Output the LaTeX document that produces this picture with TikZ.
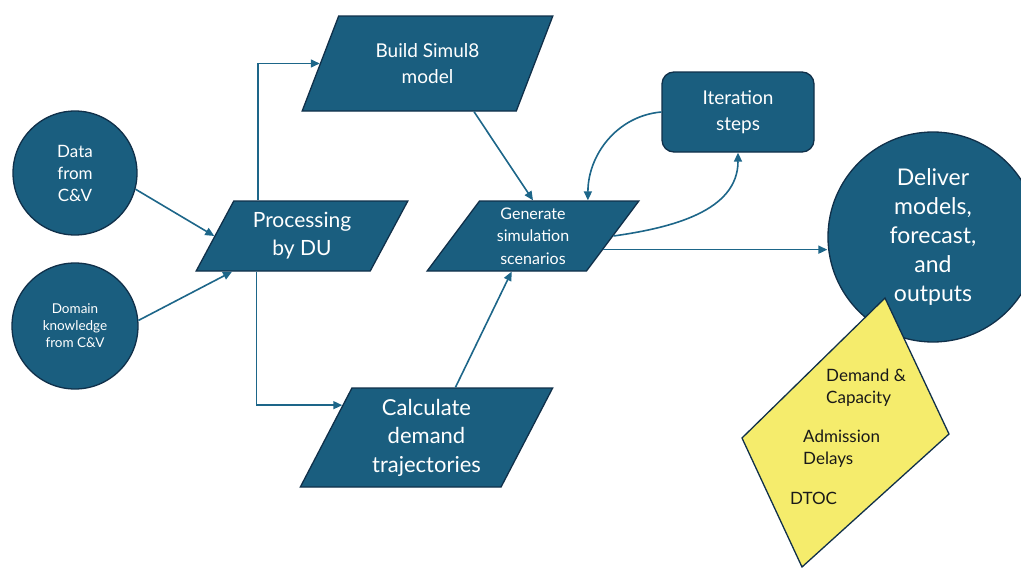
\documentclass[tikz,border=0pt]{standalone}
\usepackage{fontspec}
\setmainfont{Lato}
\usetikzlibrary{shapes.geometric}
\usetikzlibrary{arrows.meta}
\usetikzlibrary{positioning,calc}
\definecolor{dufill}{HTML}{1A5E7F}
\definecolor{duline}{HTML}{10304A}
\definecolor{duarrow}{HTML}{1D6689}
\definecolor{duyellow}{HTML}{F5EC6C}

\begin{document}
\begin{tikzpicture}[x=1pt,y=-1pt,
      flow/.style={draw=duline,line width=1.3pt,fill=dufill,text=white,
         align=center,inner sep=0pt},
      src/.style={flow,circle},
      slant/.style 2 args={flow,trapezium,trapezium stretches=true,
         trapezium left angle=#1,trapezium right angle=#2},
      arr/.style={draw=duarrow,line width=1.6pt,
         -{Triangle[length=9pt,width=8pt]}},
      kpitext/.style={align=left,inner sep=0pt,text=black!90,
         font=\fontsize{17}{22}\selectfont}]

   \useasboundingbox (0,0) rectangle (1021,568);
   \clip (0,0) rectangle (1021,568);

   % data coming from C&V
   \node[src,minimum size=124pt,font=\fontsize{17}{22}\selectfont]
      (data) at (75,173) {Data\\from\\C\&V};
   \node[src,minimum size=126pt,font=\fontsize{13.5}{17}\selectfont]
      (dom) at (75,326) {Domain\\knowledge\\from C\&V};

   % DU processing steps
   \node[slant={60}{120},minimum width=212pt,minimum height=70pt,
      font=\fontsize{21}{28}\selectfont] (proc) at (302,236) {Processing\\by DU};
   \node[slant={62}{118},minimum width=251pt,minimum height=95pt,
      font=\fontsize{19}{26}\selectfont] (build) at (427.5,63.5) {Build Simul8\\model};
   \node[slant={58}{122},minimum width=212pt,minimum height=70pt,
      font=\fontsize{16}{22.5}\selectfont] (gen) at (533,236)
      {Generate\\simulation\\scenarios};
   \node[slant={64}{116},minimum width=253pt,minimum height=99pt,
      font=\fontsize{22}{28.5}\selectfont] (calc) at (426.5,437.5)
      {Calculate\\demand\\trajectories};

   % loop box
   \node[flow,rounded corners=12pt,minimum width=152pt,minimum height=80pt,
      font=\fontsize{19}{26}\selectfont] (iter) at (738,112) {Iteration\\steps};

   % outputs
   \node[flow,circle,minimum size=210pt,font=\fontsize{23}{29}\selectfont]
      (deliver) at (933,237) {Deliver\\models,\\forecast,\\and\\outputs};

   \draw[arr] (data.-15) -- (proc.west);
   \draw[arr] (dom.5) -- (proc.207);
   \draw[arr] (proc.141) |- (build.west);
   \draw[arr] (proc.218) |- (calc.159);
   \draw[arr] (build.-46) -- (gen.north);
   \draw[arr] (calc.60) -- (gen.-121);
   \draw[arr] (iter.west) to[out=185,in=90] (gen.33);
   \draw[arr] (gen.east) to[out=8,in=-90] (iter.south);
   \draw[arr] (gen.-11) -- (gen.-11 -| deliver.west);

   % yellow list of outputs
   \draw[draw=duline,line width=1.3pt,fill=duyellow]
      (885,298) -- (949,434) -- (802,567) -- (742,438) -- cycle;
   \node[kpitext,anchor=west] (dc) at (826,388) {Demand \&\\Capacity};
   \node[kpitext,anchor=west] (ad) at (803,449) {Admission\\Delays};
   \node[kpitext,anchor=west] (dt) at (790,498) {DTOC};

\end{tikzpicture}
\end{document}
